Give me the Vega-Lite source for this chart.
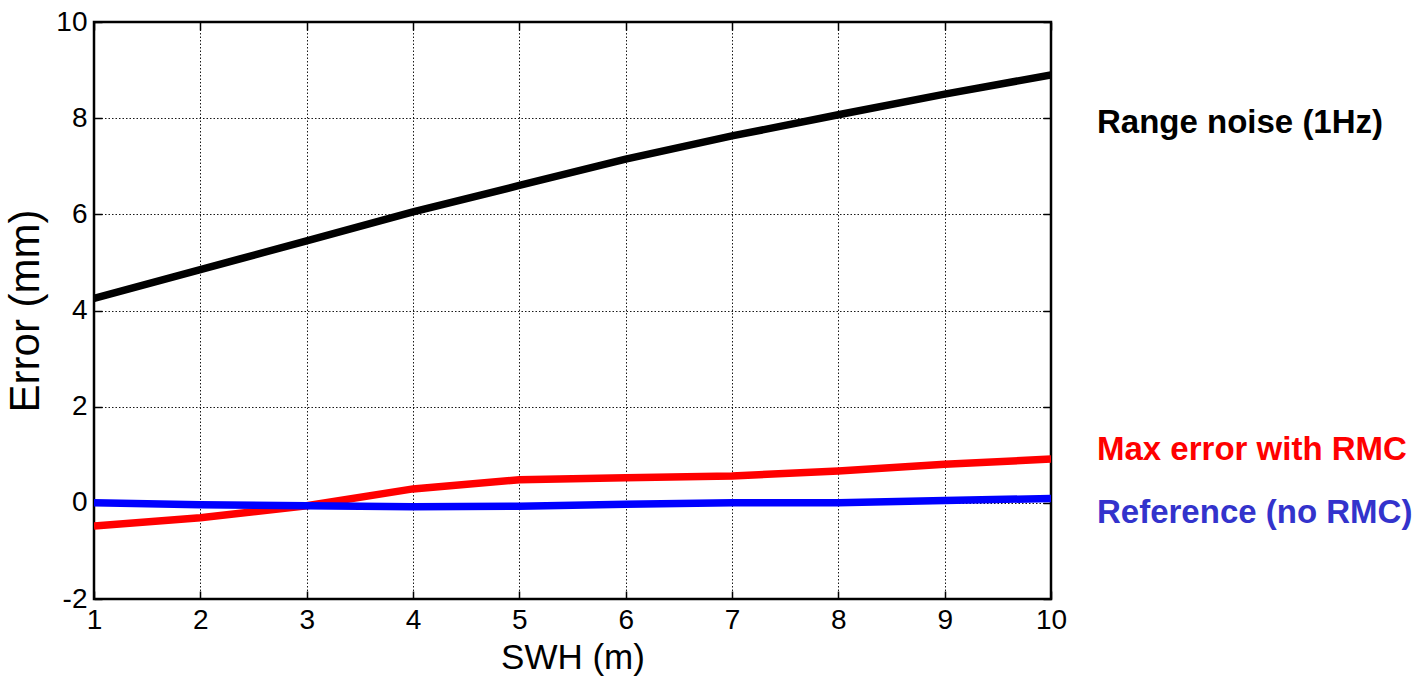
{
  "$schema": "https://vega.github.io/schema/vega-lite/v6.json",
  "width": 957,
  "height": 577,
  "autosize": {"type": "none"},
  "padding": {"left": 94, "top": 22, "right": 366, "bottom": 84},
  "background": "white",
  "config": {
    "font": "Liberation Sans",
    "view": {"stroke": "black", "strokeWidth": 2.5}
  },
  "datasets": {
    "lines": [
      {"swh": 1, "err": 4.25, "series": "Range noise (1Hz)"},
      {"swh": 2, "err": 4.85, "series": "Range noise (1Hz)"},
      {"swh": 3, "err": 5.45, "series": "Range noise (1Hz)"},
      {"swh": 4, "err": 6.05, "series": "Range noise (1Hz)"},
      {"swh": 5, "err": 6.6, "series": "Range noise (1Hz)"},
      {"swh": 6, "err": 7.15, "series": "Range noise (1Hz)"},
      {"swh": 7, "err": 7.63, "series": "Range noise (1Hz)"},
      {"swh": 8, "err": 8.07, "series": "Range noise (1Hz)"},
      {"swh": 9, "err": 8.5, "series": "Range noise (1Hz)"},
      {"swh": 10, "err": 8.9, "series": "Range noise (1Hz)"},
      {"swh": 1, "err": -0.48, "series": "Max error with RMC"},
      {"swh": 2, "err": -0.31, "series": "Max error with RMC"},
      {"swh": 3, "err": -0.06, "series": "Max error with RMC"},
      {"swh": 4, "err": 0.29, "series": "Max error with RMC"},
      {"swh": 5, "err": 0.48, "series": "Max error with RMC"},
      {"swh": 6, "err": 0.52, "series": "Max error with RMC"},
      {"swh": 7, "err": 0.56, "series": "Max error with RMC"},
      {"swh": 8, "err": 0.66, "series": "Max error with RMC"},
      {"swh": 9, "err": 0.8, "series": "Max error with RMC"},
      {"swh": 10, "err": 0.91, "series": "Max error with RMC"},
      {"swh": 1, "err": 0.0, "series": "Reference (no RMC)"},
      {"swh": 2, "err": -0.04, "series": "Reference (no RMC)"},
      {"swh": 3, "err": -0.06, "series": "Reference (no RMC)"},
      {"swh": 4, "err": -0.08, "series": "Reference (no RMC)"},
      {"swh": 5, "err": -0.07, "series": "Reference (no RMC)"},
      {"swh": 6, "err": -0.03, "series": "Reference (no RMC)"},
      {"swh": 7, "err": 0.0, "series": "Reference (no RMC)"},
      {"swh": 8, "err": 0.0, "series": "Reference (no RMC)"},
      {"swh": 9, "err": 0.05, "series": "Reference (no RMC)"},
      {"swh": 10, "err": 0.09, "series": "Reference (no RMC)"}
    ],
    "labels": [
      {"swh": 10, "err": 7.9, "label": "Range noise (1Hz)", "series": "Range noise (1Hz)"},
      {"swh": 10, "err": 1.1, "label": "Max error with RMC", "series": "Max error with RMC"},
      {"swh": 10, "err": -0.21, "label": "Reference (no RMC)", "series": "Reference (no RMC)"}
    ]
  },
  "layer": [
    {
      "data": {"name": "lines"},
      "mark": {"type": "line", "strokeWidth": 7.5, "clip": true},
      "encoding": {
        "x": {
          "field": "swh", "type": "quantitative",
          "scale": {"domain": [1, 10], "nice": false, "zero": false},
          "axis": {
            "title": "SWH (m)", "titleFontSize": 35, "titleFontWeight": "normal", "titleColor": "black", "titlePadding": 6,
            "values": [1, 2, 3, 4, 5, 6, 7, 8, 9, 10],
            "labelExpr": "'' + datum.value",
            "labelFontSize": 28, "labelColor": "black", "labelPadding": 15, "labelFlush": false,
            "tickSize": -8, "tickColor": "black", "tickWidth": 1.5,
            "domain": false,
            "grid": true, "gridColor": "black", "gridDash": [1.5, 2], "gridWidth": 1, "gridOpacity": 0.9
          }
        },
        "y": {
          "field": "err", "type": "quantitative",
          "scale": {"domain": [-2, 10], "nice": false, "zero": false},
          "axis": {
            "title": "Error (mm)", "titleFontSize": 42, "titleFontWeight": "normal", "titleColor": "black", "titlePadding": 8,
            "values": [-2, 0, 2, 4, 6, 8, 10],
            "labelExpr": "'' + datum.value",
            "labelFontSize": 28, "labelColor": "black", "labelPadding": 15, "labelFlush": false,
            "tickSize": -8, "tickColor": "black", "tickWidth": 1.5,
            "domain": false,
            "grid": true, "gridColor": "black", "gridDash": [1.5, 2], "gridWidth": 1, "gridOpacity": 0.9
          }
        },
        "color": {
          "field": "series", "type": "nominal",
          "scale": {"domain": ["Range noise (1Hz)", "Max error with RMC", "Reference (no RMC)"], "range": ["#000000", "#ff0000", "#0000ff"]},
          "legend": null
        },
        "detail": {"field": "series"}
      }
    },
    {
      "data": {"name": "labels"},
      "mark": {"type": "text", "align": "left", "baseline": "middle", "dx": 46, "fontSize": 33, "fontWeight": "bold", "clip": false},
      "encoding": {
        "x": {"field": "swh", "type": "quantitative", "axis": {"orient": "top", "title": null, "labels": false, "values": [1,2,3,4,5,6,7,8,9,10], "tickSize": -8, "tickColor": "black", "tickWidth": 1.5, "domain": false, "grid": false}},
        "y": {"field": "err", "type": "quantitative", "axis": {"orient": "right", "title": null, "labels": false, "values": [-2,0,2,4,6,8,10], "tickSize": -8, "tickColor": "black", "tickWidth": 1.5, "domain": false, "grid": false}},
        "text": {"field": "label"},
        "color": {
          "field": "series", "type": "nominal",
          "scale": {"domain": ["Range noise (1Hz)", "Max error with RMC", "Reference (no RMC)"], "range": ["#000000", "#ff0000", "#3333cc"]},
          "legend": null
        }
      }
    }
  ],
  "resolve": {"axis": {"x": "independent", "y": "independent"}, "scale": {"color": "independent"}}
}
